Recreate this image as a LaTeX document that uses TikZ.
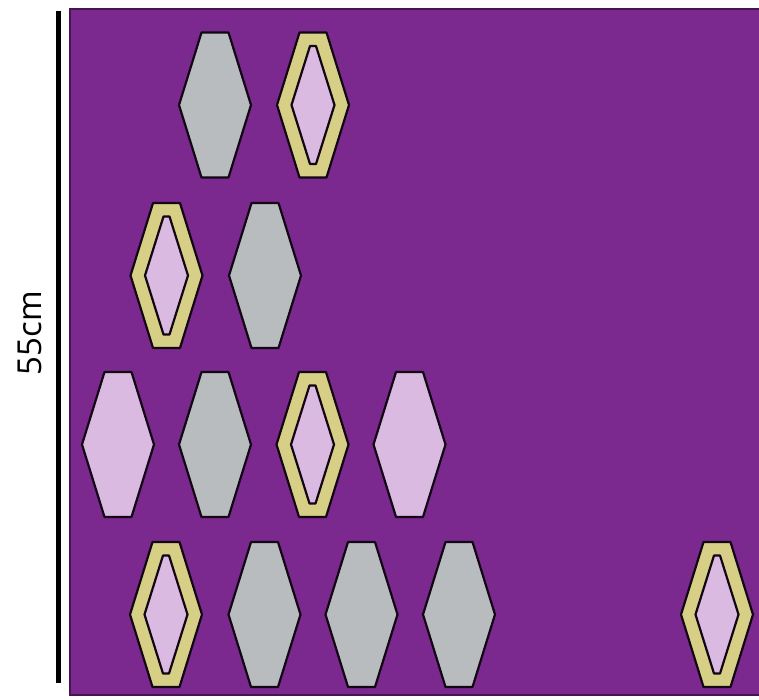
\documentclass[tikz,border=0pt]{standalone}
\usepackage{fontspec}
\setmainfont{Open Sans}
\definecolor{bgpurple}{RGB}{123,41,143}
\definecolor{bgedge}{RGB}{70,20,80}
\definecolor{hexgrey}{RGB}{184,188,190}
\definecolor{hexpink}{RGB}{218,186,224}
\definecolor{hexyellow}{RGB}{214,207,133}
\tikzset{
  hexline/.style={draw=black!85!bgpurple, line width=2.2pt, line join=round},
  outerhex/.pic={\path[hexline,pic actions] (-13.5,-72.5) -- (13.5,-72.5) -- (36,0) -- (13.5,72.5) -- (-13.5,72.5) -- (-36,0) -- cycle;},
  innerhex/.pic={\path[hexline,pic actions] (-3,-59) -- (3,-59) -- (21.5,0) -- (3,59) -- (-3,59) -- (-21.5,0) -- cycle;},
  greyhex/.pic={\pic[fill=hexgrey]{outerhex};},
  pinkhex/.pic={\pic[fill=hexpink]{outerhex};},
  ringhex/.pic={\pic[fill=hexyellow]{outerhex};\pic[fill=hexpink]{innerhex};},
  scalebar/.style={line width=5pt, black},
  board/.style={fill=bgpurple, draw=bgedge, line width=1.5pt}
}
\begin{document}
\begin{tikzpicture}[x=1pt,y=-1pt]
\useasboundingbox (0,0) rectangle (759,700);
\fill[white] (0,0) rectangle (759,700);
\draw[board] (70,9) rectangle (762,695);
\coordinate (bartop) at (58.5,11);
\coordinate (barbot) at (58.5,683);
\draw[scalebar] (bartop) -- (barbot);
\node[rotate=90, font=\fontsize{33}{36}\selectfont, inner sep=0pt] (lbl) at (30,333) {55cm};
% row 1
\pic at (215,105) {greyhex};
\pic at (313,105) {ringhex};
% row 2
\pic at (166.5,275.5) {ringhex};
\pic at (265,275.5) {greyhex};
% row 3
\pic at (118,444.5) {pinkhex};
\pic at (215,444.5) {greyhex};
\pic at (312.5,444.5) {ringhex};
\pic at (409.5,444.5) {pinkhex};
% row 4
\pic at (166,614.5) {ringhex};
\pic at (264.5,614.5) {greyhex};
\pic at (361.5,614.5) {greyhex};
\pic at (459,614.5) {greyhex};
\pic at (717,614.5) {ringhex};
\end{tikzpicture}
\end{document}
